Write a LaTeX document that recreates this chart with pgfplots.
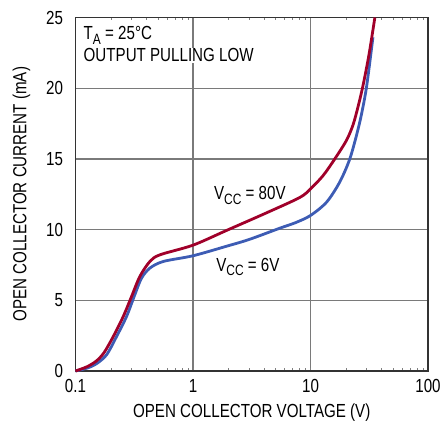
\documentclass[border=0pt]{standalone}
\usepackage{pgfplots}
\pgfplotsset{compat=1.18}
\usepackage{fontspec}
\setmainfont[FakeStretch=0.8]{Liberation Sans}
\definecolor{ltred}{HTML}{A0002A}
\definecolor{ltblue}{HTML}{3D5CB4}
\definecolor{gridgray}{HTML}{7A7A7A}
\newcommand{\sub}[1]{\raisebox{-0.45ex}{\fontsize{15}{15}\selectfont #1}}
\begin{document}
\fontsize{19}{21}\selectfont
\begin{tikzpicture}
  \begin{axis}[
      scale only axis,
      width=352.5bp, height=353.5bp,
      xmode=log,
      xmin=0.1, xmax=100,
      ymin=0, ymax=25,
      xtick={0.1,1,10,100},
      xticklabels={0.1,1,10,100},
      ytick={0,5,10,15,20,25},
      major tick length=0pt,
      minor tick num=0,
      grid=major,
      major grid style={gridgray, line width=1.2bp},
      axis line style={black!80, line width=1.5bp},
      /pgf/number format/assume math mode=true,
      yticklabel style={anchor=east, xshift=-6bp},
      xticklabel style={anchor=north, yshift=-2bp},
      xlabel={OPEN COLLECTOR VOLTAGE (V)},
      ylabel={OPEN COLLECTOR CURRENT (mA)},
      xlabel style={yshift=2bp},
      ylabel style={yshift=3bp},
      clip=false,
    ]
    % VCC = 6V
    \addplot[ltblue, line width=2.8bp, smooth] coordinates {
      (0.1,0) (0.125,0.2) (0.15,0.5) (0.184,1.15) (0.224,2.45) (0.272,3.86)
      (0.32,5.4) (0.365,6.57) (0.43,7.28) (0.56,7.75) (1,8.15)
      (1.94,8.83) (3,9.3) (5.48,10.1) (7.5,10.5) (10,11.0)
      (13.7,11.94) (17.7,13.35) (21.6,15.0) (25.4,17.1)
      (28,18.7) (30.3,20.35) (34,23.6)
    };
    % VCC = 80V
    \addplot[ltred, line width=2.8bp, smooth] coordinates {
      (0.1,0) (0.125,0.3) (0.15,0.7) (0.175,1.3) (0.21,2.45) (0.255,3.86)
      (0.30,5.27) (0.353,6.69) (0.43,7.75) (0.524,8.22) (1,8.9)
      (1.94,9.95) (4.26,11.2) (8.1,12.27) (10,12.88)
      (12.8,13.82) (16.1,15.0) (20.2,16.3) (23,17.4) (25.4,18.7)
      (28,20.2) (31.5,22.4) (35.3,25)
    };
    \node[anchor=north west, inner sep=1bp] at ([xshift=7bp,yshift=-8bp]rel axis cs:0,1)
      {T\sub{A} = 25°C};
    \node[anchor=north west, fill=white, inner sep=1bp] at ([xshift=7bp,yshift=-30bp]rel axis cs:0,1)
      {OUTPUT PULLING LOW};
    \node at (axis cs:3.05,12.4) {V\sub{CC} = 80V};
    \node at (axis cs:2.93,7.35) {V\sub{CC} = 6V};
  \end{axis}
  \pgfresetboundingbox
  \path[use as bounding box] ([shift={(-75.5bp,-52bp)}]current axis.south west)
    rectangle ([shift={(18bp,17.5bp)}]current axis.north east);
\end{tikzpicture}
\end{document}
